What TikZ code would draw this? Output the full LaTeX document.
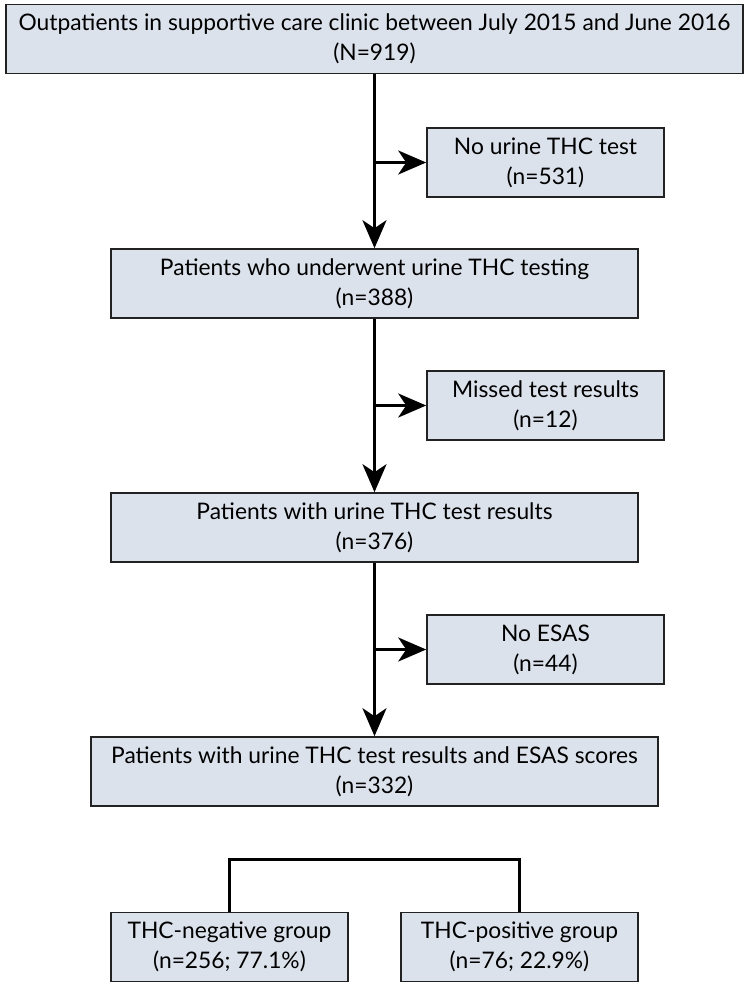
\documentclass[tikz,border=0pt]{standalone}
\usepackage{fontspec}
\setmainfont{Lato}
\usetikzlibrary{arrows.meta}
\definecolor{boxfill}{HTML}{DCE2EC}
\definecolor{boxline}{HTML}{222222}
\begin{document}
\begin{tikzpicture}[x=1pt,y=-1pt]
            \tikzset{
                flowbox/.style={rectangle,draw=boxline,line width=1.6pt,fill=boxfill,align=center,
                    inner sep=0pt,minimum height=69pt,font=\fontsize{22.8}{30}\selectfont},
                sidebox/.style={flowbox,minimum width=237pt},
                flow/.style={line width=3pt,-{Stealth[length=28pt,width=24pt,inset=8pt]}},
                link/.style={line width=3pt}
            }
            \useasboundingbox (0,0) rectangle (749,989);
            \node[flowbox, minimum width=737pt] (all) at (374.5,39) {Outpatients in supportive care clinic between July 2015 and June 2016\\(N=919)};
            \node[sidebox] (notest) at (545.5,162.5) {No urine THC test\\(n=531)};
            \node[flowbox, minimum width=527pt] (tested) at (374.5,283.5) {Patients who underwent urine THC testing\\(n=388)};
            \node[sidebox] (missed) at (545.5,405.5) {Missed test results\\(n=12)};
            \node[flowbox, minimum width=527pt] (results) at (374.5,527.5) {Patients with urine THC test results\\(n=376)};
            \node[sidebox] (noesas) at (545.5,649.5) {No ESAS\\(n=44)};
            \node[flowbox, minimum width=567pt] (final) at (374.5,771.5) {Patients with urine THC test results and ESAS scores\\(n=332)};
            \node[sidebox] (neg) at (229.5,947) {THC-negative group\\(n=256; 77.1\%)};
            \node[sidebox] (pos) at (519.5,947) {THC-positive group\\(n=76; 22.9\%)};
            \coordinate (split) at (374.5,859);
            % main flow
            \draw[flow] (all) -- (tested);
            \draw[flow] (tested) -- (results);
            \draw[flow] (results) -- (final);
            % exclusions
            \draw[flow] (all.south |- notest) -- (notest);
            \draw[flow] (tested.south |- missed) -- (missed);
            \draw[flow] (results.south |- noesas) -- (noesas);
            % groups
            \draw[link] (neg.north) |- (split) -| (pos.north);
        \end{tikzpicture}
\end{document}
